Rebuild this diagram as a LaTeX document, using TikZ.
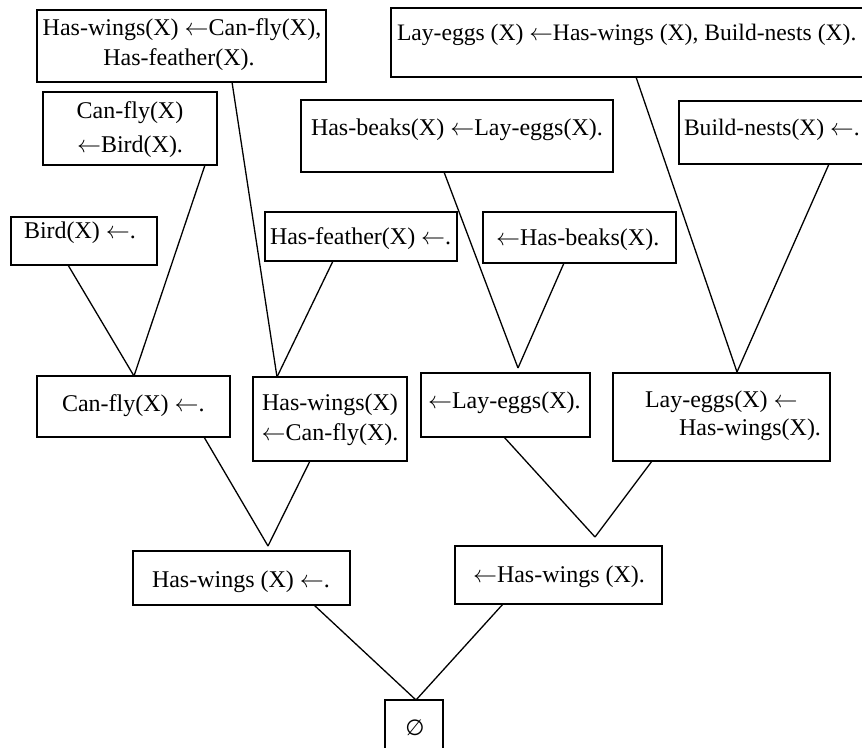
\RequirePackage{fix-cm}
\documentclass[tikz,border=0pt]{standalone}
\usepackage{fontspec}
\setmainfont{Liberation Serif}
\newfontfamily\symfont{DejaVu Sans}
\newcommand{\impl}{\ensuremath{\leftarrow}}
\begin{document}
\begin{tikzpicture}[x=1pt,y=-1pt,
  clause/.style={draw, rectangle, line width=1.3pt, inner sep=0pt, outer sep=0pt},
  txt/.style={inner sep=0pt, outer sep=0pt, font=\fontsize{24}{29}\selectfont},
  edge/.style={line width=1.3pt}]
\useasboundingbox (0,0) rectangle (862,747);
\clip (0,0) rectangle (862,747);

% clause boxes
\node[clause, minimum width=289pt, minimum height=72pt] (hw3) at (181.5,46) {};
\node[clause, minimum width=174pt, minimum height=73pt] (cf2) at (130,128.5) {};
\node[clause, minimum width=146pt, minimum height=48pt] (bird) at (84,241) {};
\node[clause, minimum width=192pt, minimum height=49pt] (hf) at (361,236.5) {};
\node[clause, minimum width=312pt, minimum height=72pt] (hb2) at (457,136) {};
\node[clause, minimum width=490pt, minimum height=69pt] (le3) at (636,42.5) {};
\node[clause, minimum width=200pt, minimum height=63pt] (bn) at (779,132.5) {};
\node[clause, minimum width=193pt, minimum height=51pt] (qhb) at (579.5,237.5) {};
\node[clause, minimum width=193pt, minimum height=61pt] (cf) at (133.5,406.5) {};
\node[clause, minimum width=154pt, minimum height=84pt] (hw2) at (330,419) {};
\node[clause, minimum width=169pt, minimum height=64pt] (qle) at (505.5,405) {};
\node[clause, minimum width=217pt, minimum height=88pt] (le2) at (721.5,417) {};
\node[clause, minimum width=217pt, minimum height=54pt] (hw) at (241.5,578) {};
\node[clause, minimum width=207pt, minimum height=58pt] (qhw) at (558.5,575) {};
\node[clause, minimum width=58pt, minimum height=70pt] (nil) at (414,735) {};

% clause texts
\node[txt, anchor=base] (t-hw3a) at (182,35) {Has-wings(X) \impl Can-fly(X),};
\node[txt, anchor=base] (t-hw3b) at (179,65) {Has-feather(X).};
\node[txt, anchor=base] (t-cf2a) at (130,118) {Can-fly(X)};
\node[txt, anchor=base] (t-cf2b) at (130,152) {\impl Bird(X).};
\node[txt, anchor=base west] (t-bird) at (24,238) {Bird(X) \impl.};
\node[txt, anchor=base west] (t-hf) at (270,244) {Has-feather(X) \impl.};
\node[txt, anchor=base west] (t-hb2) at (311,135) {Has-beaks(X) \impl Lay-eggs(X).};
\node[txt, anchor=base west, font=\fontsize{23.6}{29}\selectfont] (t-le3) at (397,40) {Lay-eggs (X) \impl Has-wings (X), Build-nests (X).};
\node[txt, anchor=base west, font=\fontsize{23.6}{29}\selectfont] (t-bn) at (684,135) {Build-nests(X) \impl.};
\node[txt, anchor=base west] (t-qhb) at (496,245) {\impl Has-beaks(X).};
\node[txt, anchor=base west] (t-cf) at (62,411) {Can-fly(X) \impl.};
\node[txt, anchor=base] (t-hw2a) at (330,410) {Has-wings(X)};
\node[txt, anchor=base] (t-hw2b) at (330,440) {\impl Can-fly(X).};
\node[txt, anchor=base west] (t-qle) at (428,408) {\impl Lay-eggs(X).};
\node[txt, anchor=base west] (t-le2a) at (645,407) {Lay-eggs(X) \impl};
\node[txt, anchor=base east] (t-le2b) at (821,435) {Has-wings(X).};
\node[txt, anchor=base west] (t-hw) at (152,587) {Has-wings (X) \impl.};
\node[txt, anchor=base west] (t-qhw) at (473,582) {\impl Has-wings (X).};
\node[txt, anchor=base, font=\fontsize{22}{28}\symfont] (t-nil) at (415,735) {∅};

% resolvent points
\coordinate (rA) at (134,376);
\coordinate (rB) at (277,377);
\coordinate (rC) at (268,546);
\coordinate (rD) at (518,368);
\coordinate (rE) at (737,372);
\coordinate (rF) at (595,537);
\coordinate (rG) at (416,700);

% resolution edges
\draw[edge] (bird.south west) ++(57,0) -- (rA);
\draw[edge] (cf2.south west) ++(162,0) -- (rA);
\draw[edge] (hw3.south west) ++(195,0) -- (rB);
\draw[edge] (hf.south west) ++(68,0) -- (rB);
\draw[edge] (cf.south west) ++(167,0) -- (rC);
\draw[edge] (hw2.south west) ++(57,0) -- (rC);
\draw[edge] (hb2.south west) ++(143,0) -- (rD);
\draw[edge] (qhb.south west) ++(81,0) -- (rD);
\draw[edge] (le3.south west) ++(245,0) -- (rE);
\draw[edge] (bn.south west) ++(150,0) -- (rE);
\draw[edge] (qle.south west) ++(83,0) -- (rF);
\draw[edge] (le2.south west) ++(39,0) -- (rF);
\draw[edge] (hw.south west) ++(181,0) -- (rG);
\draw[edge] (qhw.south west) ++(48,0) -- (rG);
\end{tikzpicture}
\end{document}
